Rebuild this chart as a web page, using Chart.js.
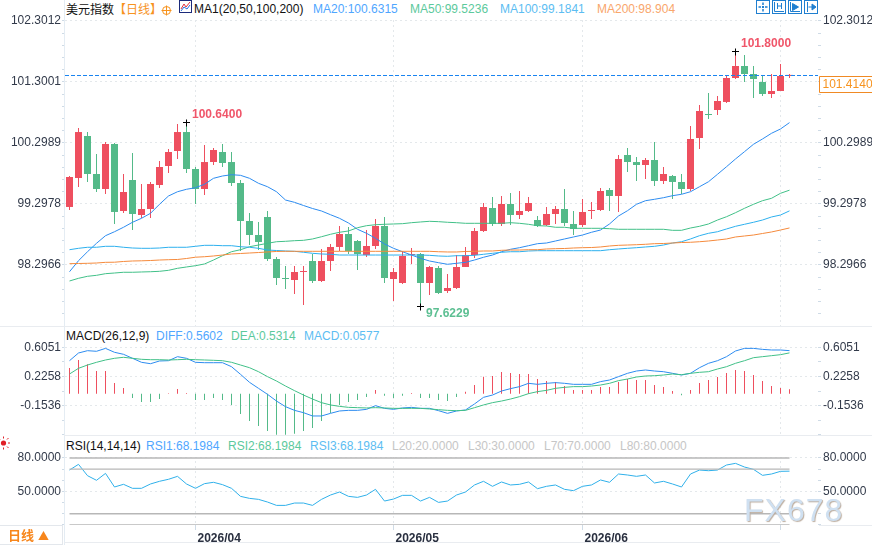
<!DOCTYPE html>
<html lang="zh">
<head>
<meta charset="utf-8">
<title>美元指数 日线</title>
<script src="https://cdn.jsdelivr.net/npm/chart.js@4"></script>
<style>
  html, body { margin: 0; padding: 0; background: #fff; }
  #stage { position: relative; width: 872px; height: 545px; overflow: hidden; background: #fff;
           font: 12px "Liberation Sans", Arial, sans-serif; }
  canvas { position: absolute; left: 0; display: block; }
  .rule { position: absolute; background: #e9ecf0; }
  .mask { position: absolute; left: 66px; width: 752px; background: #fff; }
  .t { position: absolute; white-space: nowrap; line-height: 14px; height: 14px; }
  .cjk { font-family: "Noto Sans CJK SC", "Liberation Sans", sans-serif; }
  .ico { position: absolute; display: block; }
  #wm { position: absolute; left: 744px; top: 492px; font: 32px/36px "Liberation Sans", Arial, sans-serif;
        letter-spacing: 1px; color: #cfe0f1; text-shadow: 1px 1px 1px #bdaea0; white-space: nowrap; }
  #period { position: absolute; left: 0; top: 525px; width: 62px; height: 18px; border: 1px solid #e3e7ec;
            border-left: 0; color: #f7861c; font: bold 13px/18px "Noto Sans CJK SC", sans-serif; padding-left: 0; }
</style>
</head>
<body>
<div id="stage">
  <canvas id="priceChart" width="872" height="326" style="top:0"></canvas>
  <canvas id="macdChart" width="872" height="108" style="top:327px"></canvas>
  <canvas id="rsiChart" width="872" height="108" style="top:436px"></canvas>

  <div class="rule" style="left:64px;top:0;width:1px;height:545px;background:#e4ecf3"></div>
  <div class="rule" style="left:0;top:326px;width:872px;height:1px"></div>
  <div class="rule" style="left:64px;top:435px;width:808px;height:1px"></div>
  <div class="rule" style="left:819px;top:525px;width:53px;height:1px"></div>
  <div class="rule" style="left:64px;top:542px;width:716px;height:1px"></div>

  <div class="mask" style="top:0;height:20px"></div>
  <div class="mask" style="top:327px;height:19px"></div>
  <div class="mask" style="top:436px;height:21px"></div>

  <span class="t cjk" style="left:66px;top:2px;color:#111">美元指数</span>
  <span class="t cjk" style="left:114px;top:2px;color:#f7931e">【</span>
  <span class="t cjk" style="left:126px;top:2px;color:#f7931e">日线</span>
  <span class="t cjk" style="left:150px;top:2px;color:#f7931e">】</span>
  <svg class="ico" style="left:161px;top:5px" width="11" height="11" viewBox="0 0 11 11">
    <circle cx="5.5" cy="5.5" r="4" fill="none" stroke="#f7931e"/>
    <path d="M0.5 5.5H10.5M5.5 0.5V10.5" stroke="#f7931e"/>
  </svg>
  <svg class="ico" style="left:179px;top:0" width="13" height="14" viewBox="0 0 13 14">
    <rect x="0.5" y="0.5" width="12" height="12" fill="#fff" stroke="#1c2a7a"/>
    <path d="M2 9L5 4L7 7L11 2" fill="none" stroke="#e0303a"/>
    <path d="M2 11L5 7L8 9L11 5" fill="none" stroke="#2a6fe0"/>
  </svg>
  <span class="t" style="left:194px;top:2px;color:#111">MA1(20,50,100,200)</span>
  <span class="t" style="left:313px;top:2px;color:#4fa6ff">MA20:100.6315</span>
  <span class="t" style="left:410px;top:2px;color:#5cc99c">MA50:99.5236</span>
  <span class="t" style="left:500px;top:2px;color:#5cbdf2">MA100:99.1841</span>
  <span class="t" style="left:597px;top:2px;color:#f9a66c">MA200:98.904</span>

  <svg class="ico" style="left:756px;top:0" width="62" height="14" viewBox="0 0 62 14" fill="none" stroke="#1f7fd0">
    <rect x="0.5" y="0.5" width="13" height="13"/>
    <rect x="16.5" y="0.5" width="13" height="13"/>
    <rect x="32.5" y="0.5" width="13" height="13"/>
    <rect x="48.5" y="0.5" width="13" height="13"/>
    <path d="M7 2.5V5M7 9V11.5M2.5 7H5M9 7H11.5" stroke-width="1.5"/>
    <rect x="6" y="6" width="2" height="2" fill="#1f7fd0" stroke="none"/>
    <path d="M18.5 2V11.5H28M21.5 3V9M25.5 3V9M21.5 6H25.5"/>
    <path d="M34.5 2V11.5H44"/>
    <path d="M36.5 3.5L42.5 7L36.5 10.5Z" fill="#1f7fd0"/>
    <path d="M51.5 2V12"/>
    <path d="M52.5 7H56M56 4L60 7L56 10Z" fill="#1f7fd0"/>
  </svg>

  <span class="t" style="left:66px;top:329px;color:#111">MACD(26,12,9)</span>
  <span class="t" style="left:156px;top:329px;color:#4fa6ff">DIFF:0.5602</span>
  <span class="t" style="left:231px;top:329px;color:#5cc99c">DEA:0.5314</span>
  <span class="t" style="left:304px;top:329px;color:#5cbdf2">MACD:0.0577</span>

  <svg class="ico" style="left:0;top:436px" width="11" height="14" viewBox="0 0 11 14">
    <circle cx="3.5" cy="7" r="2.6" fill="#e01f26"/>
    <path d="M3.5 0.5V2.5M3.5 11.5V13.5M8 7H10M7 3.5L8.5 2M7 10.5L8.5 12M0 3.5L-1 2" stroke="#e01f26"/>
  </svg>
  <span class="t" style="left:66px;top:439px;color:#111">RSI(14,14,14)</span>
  <span class="t" style="left:146px;top:439px;color:#4fa6ff">RSI1:68.1984</span>
  <span class="t" style="left:228px;top:439px;color:#5cc99c">RSI2:68.1984</span>
  <span class="t" style="left:310px;top:439px;color:#5cbdf2">RSI3:68.1984</span>
  <span class="t" style="left:392px;top:439px;color:#c6c6c6">L20:20.0000</span>
  <span class="t" style="left:468px;top:439px;color:#c6c6c6">L30:30.0000</span>
  <span class="t" style="left:544px;top:439px;color:#c6c6c6">L70:70.0000</span>
  <span class="t" style="left:620px;top:439px;color:#c6c6c6">L80:80.0000</span>

  <div id="period"><span style="position:absolute;left:8px;top:0">日线</span><span style="position:absolute;left:38px;top:0;font-size:11px">▲</span></div>
  <div id="wm">FX678</div>
</div>

<script>
// Daily candles, one entry per session
const opens = [99.248,99.723,100.412,99.789,99.543,100.281,99.182,99.690,99.116,99.215,99.608,99.920,100.166,100.477,99.871,99.543,99.985,100.150,99.985,99.641,99.018,98.788,99.084,98.395,98.083,98.050,98.182,98.362,98.034,98.362,98.592,98.805,98.690,98.460,98.608,98.936,98.067,98.001,98.460,98.477,98.001,98.247,97.870,97.919,98.264,98.460,98.854,99.231,98.969,99.297,99.116,99.182,99.034,98.952,99.133,99.215,98.969,98.952,99.182,99.198,99.526,99.428,100.100,99.985,99.936,100.018,99.674,99.756,99.658,99.543,100.379,100.773,100.838,100.970,101.363,101.560,101.429,101.298,101.101,101.150,101.396];
const highs = [99.756,100.543,100.477,100.117,100.314,100.297,99.789,100.133,99.625,99.658,100.002,100.199,100.609,100.64,99.904,100.264,100.215,100.281,100.150,99.690,99.149,99.002,99.182,98.428,98.280,98.280,98.280,98.477,98.559,98.641,98.936,98.920,98.706,98.870,99.051,99.084,98.247,98.526,98.575,98.493,98.280,98.280,98.149,98.460,98.592,98.903,99.313,99.412,99.428,99.477,99.510,99.412,99.100,99.248,99.264,99.543,99.182,99.379,99.330,99.559,99.559,100.100,100.215,100.068,100.051,100.314,99.904,99.772,99.789,100.576,100.920,101.117,101.068,101.412,101.80,101.740,101.560,101.396,101.429,101.593,101.429];
const lows = [99.198,99.576,99.658,99.494,99.461,98.969,99.149,98.870,99.067,99.067,99.559,99.805,100.035,99.805,99.297,99.444,99.936,99.904,99.592,98.526,98.624,98.542,98.362,97.968,97.903,97.821,97.64,98.001,98.018,98.198,98.526,98.477,98.214,98.428,98.559,98.001,97.706,97.985,98.313,97.6229,97.804,97.821,97.837,97.903,98.264,98.411,98.838,98.936,98.936,98.952,99.051,99.166,98.920,98.936,98.969,98.936,98.788,98.920,99.051,99.182,99.182,99.166,99.822,99.674,99.707,99.592,99.625,99.379,99.461,99.510,100.199,100.691,100.756,100.953,101.347,101.298,101.035,101.068,101.035,101.150,101.363];
const closes = [99.740,100.477,99.789,99.543,100.281,99.166,99.494,99.133,99.215,99.625,99.904,100.150,100.477,99.871,99.543,99.985,100.182,99.969,99.641,99.018,98.788,98.674,98.395,98.083,98.067,98.182,98.198,98.034,98.362,98.592,98.805,98.526,98.477,98.608,98.936,98.083,98.182,98.444,98.477,98.001,98.264,97.837,97.919,98.264,98.460,98.854,99.248,98.969,99.297,99.116,99.182,99.313,98.936,99.133,99.215,98.985,98.887,99.166,99.198,99.510,99.428,100.035,99.985,99.936,100.018,99.674,99.789,99.658,99.543,100.363,100.822,100.756,100.986,101.363,101.560,101.429,101.347,101.101,101.150,101.396,101.414];

// Moving averages
const ma20 = [98.186,98.367,98.514,98.652,98.777,98.842,98.915,98.997,99.062,99.144,99.292,99.428,99.498,99.538,99.564,99.620,99.718,99.756,99.777,99.767,99.718,99.636,99.580,99.498,99.362,99.324,99.272,99.223,99.182,99.121,99.062,98.985,98.882,98.816,98.734,98.641,98.570,98.514,98.460,98.406,98.362,98.334,98.308,98.324,98.340,98.378,98.423,98.460,98.514,98.554,98.580,98.613,98.646,98.657,98.690,98.723,98.756,98.788,98.833,98.870,98.969,99.100,99.187,99.292,99.351,99.374,99.400,99.433,99.456,99.498,99.580,99.662,99.784,99.908,100.035,100.155,100.276,100.363,100.456,100.527,100.6315];
const ma50 = [98.034,98.078,98.111,98.127,98.154,98.165,98.177,98.177,98.182,98.186,98.193,98.209,98.242,98.264,98.285,98.313,98.378,98.449,98.514,98.547,98.596,98.624,98.652,98.678,98.685,98.695,98.701,98.723,98.760,98.800,98.833,98.854,98.908,98.941,98.957,98.964,98.969,98.974,98.990,99.002,99.013,99.007,98.997,98.990,98.980,98.980,98.980,98.980,98.980,98.990,98.980,98.964,98.941,98.936,98.915,98.915,98.898,98.898,98.898,98.898,98.892,98.882,98.882,98.882,98.882,98.882,98.882,98.865,98.865,98.903,98.931,98.969,99.034,99.088,99.154,99.226,99.292,99.351,99.390,99.472,99.5236];
const ma100 = [98.547,98.570,98.587,98.587,98.603,98.603,98.587,98.575,98.570,98.570,98.575,98.587,98.587,98.587,98.603,98.619,98.619,98.613,98.613,98.596,98.587,98.570,98.542,98.534,98.526,98.521,98.505,98.488,98.477,98.472,98.460,98.460,98.460,98.460,98.460,98.460,98.460,98.460,98.460,98.460,98.455,98.444,98.439,98.449,98.449,98.455,98.472,98.488,98.505,98.514,98.514,98.526,98.531,98.531,98.531,98.531,98.531,98.531,98.531,98.531,98.547,98.559,98.570,98.580,98.592,98.603,98.624,98.657,98.678,98.723,98.777,98.816,98.842,98.887,98.931,98.964,98.997,99.034,99.084,99.116,99.1841];
const ma200 = [98.318,98.321,98.324,98.329,98.340,98.342,98.354,98.362,98.365,98.370,98.378,98.383,98.387,98.403,98.424,98.432,98.444,98.460,98.477,98.485,98.493,98.501,98.510,98.518,98.521,98.521,98.521,98.521,98.521,98.521,98.521,98.521,98.521,98.521,98.521,98.521,98.521,98.521,98.521,98.521,98.521,98.514,98.510,98.510,98.518,98.521,98.526,98.526,98.537,98.542,98.542,98.547,98.547,98.559,98.564,98.567,98.575,98.580,98.583,98.592,98.608,98.619,98.624,98.629,98.636,98.646,98.649,98.657,98.665,98.669,98.678,98.690,98.706,98.723,98.756,98.772,98.788,98.813,98.838,98.870,98.904];

// MACD(26,12,9)
const diff = [0.430,0.530,0.560,0.552,0.590,0.539,0.513,0.461,0.409,0.391,0.426,0.430,0.482,0.461,0.409,0.404,0.404,0.404,0.352,0.253,0.149,0.071,-0.007,-0.094,-0.167,-0.215,-0.245,-0.288,-0.288,-0.254,-0.223,-0.215,-0.215,-0.202,-0.154,-0.189,-0.202,-0.184,-0.176,-0.189,-0.189,-0.219,-0.254,-0.223,-0.210,-0.132,-0.046,-0.016,0.036,0.067,0.093,0.136,0.123,0.136,0.145,0.136,0.123,0.123,0.123,0.158,0.179,0.223,0.266,0.296,0.309,0.296,0.287,0.266,0.244,0.266,0.339,0.396,0.430,0.482,0.556,0.590,0.590,0.577,0.569,0.569,0.5602];
const dea = [0.257,0.331,0.374,0.409,0.439,0.461,0.474,0.461,0.448,0.443,0.443,0.439,0.443,0.448,0.443,0.439,0.435,0.430,0.409,0.374,0.339,0.287,0.223,0.166,0.101,0.041,-0.016,-0.068,-0.115,-0.145,-0.163,-0.176,-0.180,-0.184,-0.180,-0.184,-0.189,-0.189,-0.189,-0.189,-0.197,-0.206,-0.215,-0.219,-0.215,-0.180,-0.145,-0.115,-0.094,-0.068,-0.037,0.002,0.028,0.045,0.071,0.084,0.093,0.093,0.101,0.114,0.136,0.171,0.192,0.218,0.231,0.235,0.244,0.257,0.248,0.266,0.279,0.287,0.322,0.352,0.396,0.430,0.469,0.482,0.495,0.508,0.5314];
const macdHist = [0.335,0.439,0.383,0.296,0.296,0.140,0.075,-0.055,-0.106,-0.106,-0.068,0.008,0.062,0.010,-0.081,-0.081,-0.055,-0.081,-0.145,-0.262,-0.353,-0.418,-0.483,-0.531,-0.531,-0.518,-0.483,-0.444,-0.353,-0.249,-0.145,-0.106,-0.081,-0.042,0.049,-0.024,-0.055,-0.024,0.010,-0.055,-0.055,-0.081,-0.094,-0.042,0.028,0.114,0.223,0.231,0.283,0.270,0.257,0.257,0.192,0.166,0.153,0.101,0.049,0.049,0.049,0.088,0.088,0.153,0.192,0.179,0.179,0.114,0.088,0.036,-0.020,0.049,0.140,0.179,0.218,0.270,0.309,0.296,0.244,0.166,0.101,0.075,0.0577];

// RSI(14,14,14): the three periods coincide here, so one line shows all of them
const rsi = [69.2,74.3,64.15,60.0,66.2,54.0,56.4,52.8,52.8,56.7,59.1,60.9,63.55,56.7,52.8,57.0,58.2,56.1,52.8,45.6,43.8,42.9,40.5,37.5,37.5,39.6,39.6,37.5,42.9,46.8,49.5,45.6,44.7,46.8,51.9,41.4,43.2,46.5,46.5,41.4,44.7,40.2,41.4,46.8,49.5,55.8,59.1,54.6,58.5,55.8,56.4,58.5,52.5,54.6,55.8,51.9,50.7,54.6,55.8,60.3,58.2,65.65,64.75,63.55,64.75,57.6,59.1,56.7,54.0,65.65,69.2,68.6,69.2,73.7,75.2,71.9,69.8,64.45,65.65,68.04,68.1984];
const rsiLevels = [20, 30, 70, 80];

// Axis labels
const priceTicks = [102.3012, 101.3001, 100.2989, 99.2978, 98.2966];
const macdTicks = [0.6051, 0.2258, -0.1536];
const rsiTicks = [80, 50];
const monthLabels = ['2026/04', '2026/05', '2026/06', ''];
const monthStarts = [14, 36, 57, 79];

// Marked extremes and the latest price
const extremes = [
  { index: 13, value: 100.64, text: '100.6400', color: '#f0566a', dy: -7.5 },
  { index: 74, value: 101.80, text: '101.8000', color: '#f0566a', dy: -8 },
  { index: 39, value: 97.6229, text: '97.6229', color: '#5cbf92', dy: 7.5 }
];
const lastPrice = 101.414;

const RED = '#ee4f5f', GREEN = '#54ba89';
const AXIS_FONT = { family: '"Liberation Sans", Arial, sans-serif', size: 12 };
const TICK_COLOR = '#cfdbe6', GRID_COLOR = '#e4e8eb', TEXT_COLOR = '#323a4a';
const SLOT = (818 - 65) / 9;   // candle slots across the plot, 9 px each

function numberLabel(decimals, majors) {
  return v => majors.includes(v) ? v.toFixed(decimals) : '';
}

// Major values plus evenly spaced minor marks running down from the top label
function axisTicks(majors, step, min) {
  const out = [];
  for (let v = majors[0]; v > min; v -= step) {
    const snap = majors.find(m => Math.abs(m - v) < step / 4);
    out.push({ value: snap !== undefined ? snap : v });
  }
  return out;
}

function yAxes(majors, step, range, decimals) {
  const base = {
    type: 'linear', min: range.min, max: range.max,
    afterBuildTicks(scale) { scale.ticks = axisTicks(majors, step, range.min); },
    border: { display: false, dash: [2, 3] }
  };
  const ticks = {
    autoSkip: false, font: AXIS_FONT, color: TEXT_COLOR, maxRotation: 0,
    callback: numberLabel(decimals, majors)
  };
  return {
    yLeft: Object.assign({}, base, {
      position: 'left',
      afterFit(s) { s.width = 65; s.paddingTop = 0; s.paddingBottom = 0; },
      ticks: Object.assign({}, ticks, { padding: 1 }),
      grid: {
        drawTicks: true, tickLength: 3, tickColor: TICK_COLOR, lineWidth: 1,
        color: c => majors.includes(c.tick && c.tick.value) ? GRID_COLOR : 'transparent'
      }
    }),
    yRight: Object.assign({}, base, {
      position: 'right',
      afterFit(s) { s.width = 54; s.paddingTop = 0; s.paddingBottom = 0; },
      ticks: Object.assign({}, ticks, { padding: 2 }),
      grid: { drawOnChartArea: false, drawTicks: true, tickLength: 3, tickColor: TICK_COLOR }
    })
  };
}

function xAxis(showLabels) {
  return {
    type: 'linear', min: -0.5, max: SLOT - 0.5, offset: false,
    afterBuildTicks(s) { s.ticks = monthStarts.map(value => ({ value })); },
    afterFit(s) { s.height = showLabels ? 19 : 0; s.paddingLeft = 0; s.paddingRight = 0; },
    border: { display: false, dash: [2, 3] },
    grid: { offset: false, color: GRID_COLOR, drawTicks: showLabels, tickLength: 5, tickColor: '#cfdbe6' },
    ticks: {
      display: showLabels, autoSkip: false, maxRotation: 0, align: 'start', labelOffset: 2,
      padding: 1, color: '#2a3040',
      font: Object.assign({}, AXIS_FONT, { weight: 'bold' }),
      callback: v => monthLabels[monthStarts.indexOf(v)] || ''
    }
  };
}

function lineSet(values, color, width) {
  return {
    type: 'line', data: values.map((y, x) => ({ x, y })), borderColor: color, borderWidth: width,
    pointRadius: 0, tension: 0, fill: false, order: 0, yAxisID: 'yLeft', xAxisID: 'x'
  };
}

function barSet(points, colors, thickness, order) {
  return {
    type: 'bar', order, grouped: false, barPercentage: 1, categoryPercentage: 1,
    maxBarThickness: thickness, inflateAmount: 0, borderWidth: 0,
    backgroundColor: colors, yAxisID: 'yLeft', xAxisID: 'x', data: points
  };
}

function baseOptions(x, y) {
  return {
    responsive: false, animation: false, devicePixelRatio: 1, events: [],
    layout: { padding: 0 },
    plugins: { legend: { display: false }, tooltip: { enabled: false }, title: { display: false } },
    scales: Object.assign({ x }, y)
  };
}

// Wicks, bodies and labels of the price pane
const ohlcIndexes = closes.map((_, i) => i);
const candleColors = ohlcIndexes.map(i => closes[i] >= opens[i] ? RED : GREEN);

const priceMarks = {
  id: 'priceMarks',
  afterDatasetsDraw(chart) {
    const { ctx, scales, chartArea } = chart;
    const xs = scales.x, ys = scales.yLeft;
    ctx.save();
    // Latest price level and its axis tag
    const lastY = Math.round(ys.getPixelForValue(lastPrice)) + 0.5;
    ctx.strokeStyle = '#1a84f0';
    ctx.lineWidth = 1;
    ctx.setLineDash([4, 2]);
    ctx.beginPath();
    ctx.moveTo(chartArea.left, lastY);
    ctx.lineTo(chartArea.right, lastY);
    ctx.stroke();
    ctx.setLineDash([]);
    ctx.strokeStyle = '#f08a24';
    ctx.fillStyle = '#fff';
    ctx.beginPath();
    ctx.rect(819.5, lastY + 1, 60, 16);
    ctx.fill();
    ctx.stroke();
    ctx.fillStyle = '#f7931e';
    ctx.font = '12px "Liberation Sans", Arial, sans-serif';
    ctx.textAlign = 'left';
    ctx.textBaseline = 'middle';
    ctx.fillText(lastPrice.toFixed(4), 822.5, lastY + 9.5);
    // High and low markers
    extremes.forEach(m => {
      const px = Math.floor(xs.getPixelForValue(m.index)) + 0.5;
      const py = Math.round(ys.getPixelForValue(m.value)) + 0.5;
      ctx.strokeStyle = '#000';
      ctx.lineWidth = 1;
      ctx.beginPath();
      ctx.moveTo(px - 3.5, py); ctx.lineTo(px + 3.5, py);
      ctx.moveTo(px, py - 3); ctx.lineTo(px, py + 4);
      ctx.stroke();
      ctx.fillStyle = m.color;
      ctx.font = 'bold 12px "Liberation Sans", Arial, sans-serif';
      ctx.fillText(m.text, px + 5.5, py + m.dy);
    });
    ctx.restore();
  }
};

const PX_PER_UNIT = 1 / 0.0164;
const priceRange = { max: 102.6423, min: 102.6423 - 326 / PX_PER_UNIT };
new Chart(document.getElementById('priceChart'), {
  type: 'bar',
  data: {
    datasets: [
      lineSet(ma200, '#f58a3c', 1),
      lineSet(ma100, '#2db0ee', 1),
      lineSet(ma50, '#41c088', 1),
      lineSet(ma20, '#2d8cf0', 1),
      barSet(ohlcIndexes.map(x => ({ x, y: [opens[x], closes[x]] })), candleColors, 7, 1),
      barSet(ohlcIndexes.map(x => ({ x, y: [lows[x], highs[x]] })), candleColors, 1, 2)
    ]
  },
  options: baseOptions(xAxis(false), yAxes(priceTicks, 0.20022, priceRange, 4)),
  plugins: [priceMarks]
});

// MACD pane
const macdRange = { max: (393.8 - 327) / 77, min: (393.8 - 435) / 77 };
new Chart(document.getElementById('macdChart'), {
  type: 'bar',
  data: {
    datasets: [
      lineSet(dea, '#41c088', 1),
      lineSet(diff, '#2d8cf0', 1),
      barSet(macdHist.map((y, x) => ({ x, y })), macdHist.map(v => v >= 0 ? RED : GREEN), 1, 1)
    ]
  },
  options: baseOptions(xAxis(false), yAxes(macdTicks, 0.18965, macdRange, 4))
});

// RSI pane with its fixed levels
const rsiRange = { max: 80 + (458 - 436) / 1.115, min: 80 + (458 - 436) / 1.115 - 89 / 1.115 };
new Chart(document.getElementById('rsiChart'), {
  type: 'line',
  data: {
    datasets: rsiLevels.map(level => lineSet(rsi.map(() => level), '#b7b7b7', 1.3))
      .concat([lineSet(rsi, '#2fb0ea', 1)])
  },
  options: baseOptions(xAxis(true), yAxes(rsiTicks, 10, rsiRange, 4))
});
</script>
</body>
</html>
